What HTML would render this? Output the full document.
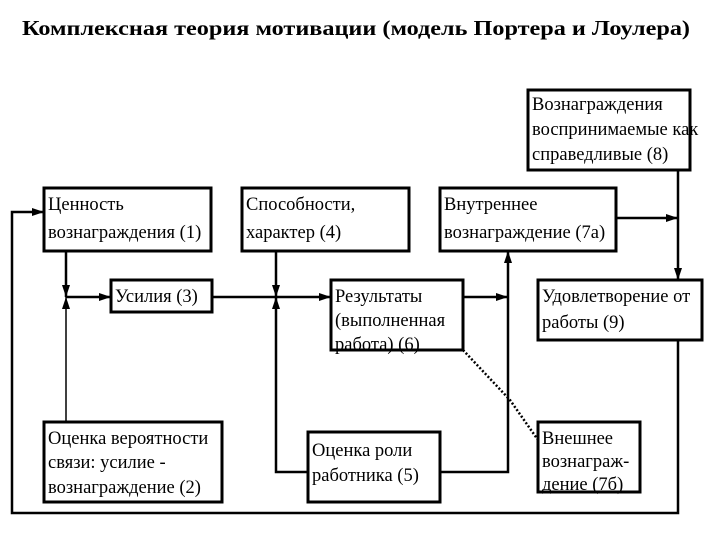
<!DOCTYPE html>
<html><head><meta charset="utf-8"><style>
body{margin:0;background:#fff;}
svg{display:block}
text{font-family:"Liberation Serif","DejaVu Serif",serif;font-size:18.5px;fill:#000}
</style></head><body>
<svg width="720" height="540" viewBox="0 0 720 540" xmlns="http://www.w3.org/2000/svg">
<defs><marker id="a" markerWidth="12" markerHeight="8" refX="12" refY="4" orient="auto" markerUnits="userSpaceOnUse"><path d="M0,0 L12,4 L0,8 z" fill="#000"/></marker></defs>
<text x="22" y="35" textLength="668" lengthAdjust="spacingAndGlyphs" style="font-size:21px;font-weight:bold">Комплексная теория мотивации (модель Портера и Лоулера)</text>
<g fill="none" stroke="#000" stroke-width="3">
<rect x="44" y="188" width="167" height="63"/>
<rect x="242" y="188" width="167" height="63"/>
<rect x="440" y="188" width="176" height="63"/>
<rect x="528" y="90" width="162" height="80"/>
<rect x="111" y="280" width="101" height="32"/>
<rect x="331" y="280" width="132" height="70"/>
<rect x="538" y="280" width="164" height="60"/>
<rect x="44" y="422" width="178" height="80"/>
<rect x="308" y="432" width="132" height="70"/>
<rect x="538" y="422" width="102" height="70"/>
</g>
<g fill="none" stroke="#000" stroke-width="2.5">
<path d="M678 340 V513 H12 V212 H44" marker-end="url(#a)"/>
<path d="M66 251 V297" marker-end="url(#a)"/>
<path d="M66 422 V297" stroke-width="1.5" marker-end="url(#a)"/>
<path d="M66 297 H111" marker-end="url(#a)"/>
<path d="M212 297 H331" marker-end="url(#a)"/>
<path d="M276 251 V297" marker-end="url(#a)"/>
<path d="M308 472 H276 V297" marker-end="url(#a)"/>
<path d="M440 472 H508 V251" marker-end="url(#a)"/>
<path d="M463 297 H508" marker-end="url(#a)"/>
<path d="M616 218 H678" marker-end="url(#a)"/>
<path d="M678 170 V280" marker-end="url(#a)"/>
<path d="M463 350 L510 400 L538 440" stroke-dasharray="2,2"/>
</g>
<text x="48" y="210">Ценность</text><text x="48" y="238">вознаграждения (1)</text>
<text x="246" y="210">Способности,</text><text x="246" y="238">характер (4)</text>
<text x="444" y="210">Внутреннее</text><text x="444" y="238">вознаграждение (7а)</text>
<text x="532" y="110">Вознаграждения</text><text x="532" y="135">воспринимаемые как</text><text x="532" y="160">справедливые (8)</text>
<text x="115" y="302">Усилия (3)</text>
<text x="335" y="302">Результаты</text><text x="335" y="326">(выполненная</text><text x="335" y="350">работа) (6)</text>
<text x="542" y="302">Удовлетворение от</text><text x="542" y="328">работы (9)</text>
<text x="48" y="444">Оценка вероятности</text><text x="48" y="468">связи: усилие -</text><text x="48" y="493">вознаграждение (2)</text>
<text x="312" y="456">Оценка роли</text><text x="312" y="481">работника (5)</text>
<text x="542" y="444">Внешнее</text><text x="542" y="467">вознаграж-</text><text x="542" y="490">дение (7б)</text>
</svg>
</body></html>
